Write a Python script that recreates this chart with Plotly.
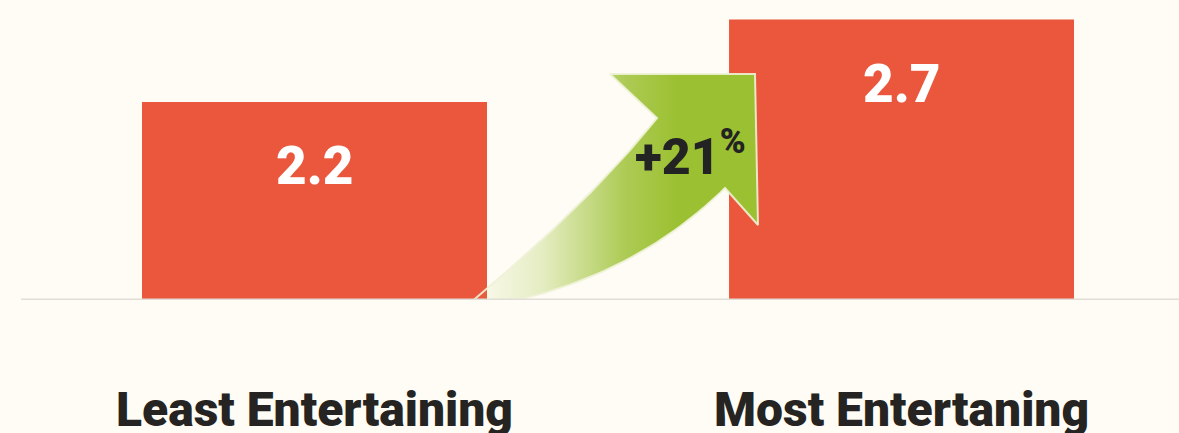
import plotly.graph_objects as go
import numpy as np

# --- data -------------------------------------------------------------
categories = ["Least Entertaining", "Most Entertaning"]
scores = [2.2, 2.7]
change_label = "+21"

# --- styling -------------------------------------------------------------
BG = "rgb(254,252,244)"
BAR = "#EA573D"
GREEN = (155, 192, 49)
INK = "#262422"

W, H = 1179, 433
x_pos = np.arange(len(categories))

fig = go.Figure()

fig.add_trace(go.Bar(
    x=x_pos, y=scores, width=0.5877,
    marker=dict(color=BAR, line=dict(width=0)),
    hoverinfo="skip", showlegend=False,
))

# --- curved growth arrow (data coordinates) ------------------------------
def qbez(p0, p1, p2, n=40):
    t = np.linspace(0, 1, n)[:, None]
    p0, p1, p2 = map(np.asarray, (p0, p1, p2))
    return (1 - t) ** 2 * p0 + 2 * (1 - t) * t * p1 + t ** 2 * p2

head_left = (0.5034, 2.3697)
head_top_right = (0.7504, 2.3697)
head_bottom_right = (0.7555, 1.4545)
notch_lower = (0.6993, 1.6788)
notch_upper = (0.5835, 2.1030)
tail = (0.2513, 0.9394)
lower_ctrl = (0.5247, 1.0667)
upper_ctrl = (0.4668, 1.5818)

lower_edge = qbez(notch_lower, lower_ctrl, tail)
upper_edge = qbez(tail, upper_ctrl, notch_upper)
outline = np.vstack([
    [head_left, head_top_right, head_bottom_right],
    lower_edge,
    upper_edge[1:],
    [head_left],
])

g = "%d,%d,%d" % GREEN
fig.add_trace(go.Scatter(
    x=outline[:, 0], y=outline[:, 1],
    mode="lines", fill="toself",
    line=dict(color="rgba(238,242,214,0.9)", width=2),
    fillgradient=dict(
        type="horizontal",
        colorscale=[[0, f"rgba({g},0)"], [0.35, f"rgba({g},0.25)"],
                    [0.75, f"rgba({g},0.82)"], [1, f"rgba({g},1)"]],
        start=0.26, stop=0.62,
    ),
    hoverinfo="skip", showlegend=False,
))

annotations = []
for xi, v in zip(x_pos, scores):
    annotations.append(dict(
        x=xi, y=v, xref="x", yref="y", text=f"{v:.1f}",
        showarrow=False, yanchor="middle", yshift=-64,
        font=dict(family="Roboto, Liberation Sans, sans-serif", size=53,
                  color="white", weight=900),
    ))
for xi, name in zip(x_pos, categories):
    annotations.append(dict(
        x=xi, y=0, xref="x", yref="paper", text=name,
        showarrow=False, yanchor="bottom", yshift=-7,
        font=dict(family="Roboto, Liberation Sans, sans-serif",
                  size=48, color=INK, weight=900),
    ))
annotations.append(dict(
    x=0.5418, y=1.885, xref="x", yref="y",
    text=f"{change_label}<sup>%</sup>",
    showarrow=False, xanchor="left", yanchor="middle",
    font=dict(family="Roboto, Liberation Sans, sans-serif", size=50,
              color="#232323", weight=900),
))

fig.update_layout(
    width=W, height=H,
    margin=dict(l=0, r=0, t=0, b=0),
    paper_bgcolor=BG, plot_bgcolor=BG,
    annotations=annotations,
    xaxis=dict(domain=[21 / W, 1], range=[-0.5, 1.4727],
               showgrid=False, zeroline=False, showticklabels=False,
               showline=False, fixedrange=True),
    yaxis=dict(domain=[(H - 300) / H, 1], range=[1.0, 1 + 300 / 165],
               showgrid=False, zeroline=False, showticklabels=False,
               showline=False, fixedrange=True),
    shapes=[dict(type="line", xref="paper", yref="y",
                 x0=21 / W, x1=1, y0=1.0, y1=1.0,
                 line=dict(color="rgb(224,222,214)", width=3), layer="above")],
)

fig.write_html("out.html")
